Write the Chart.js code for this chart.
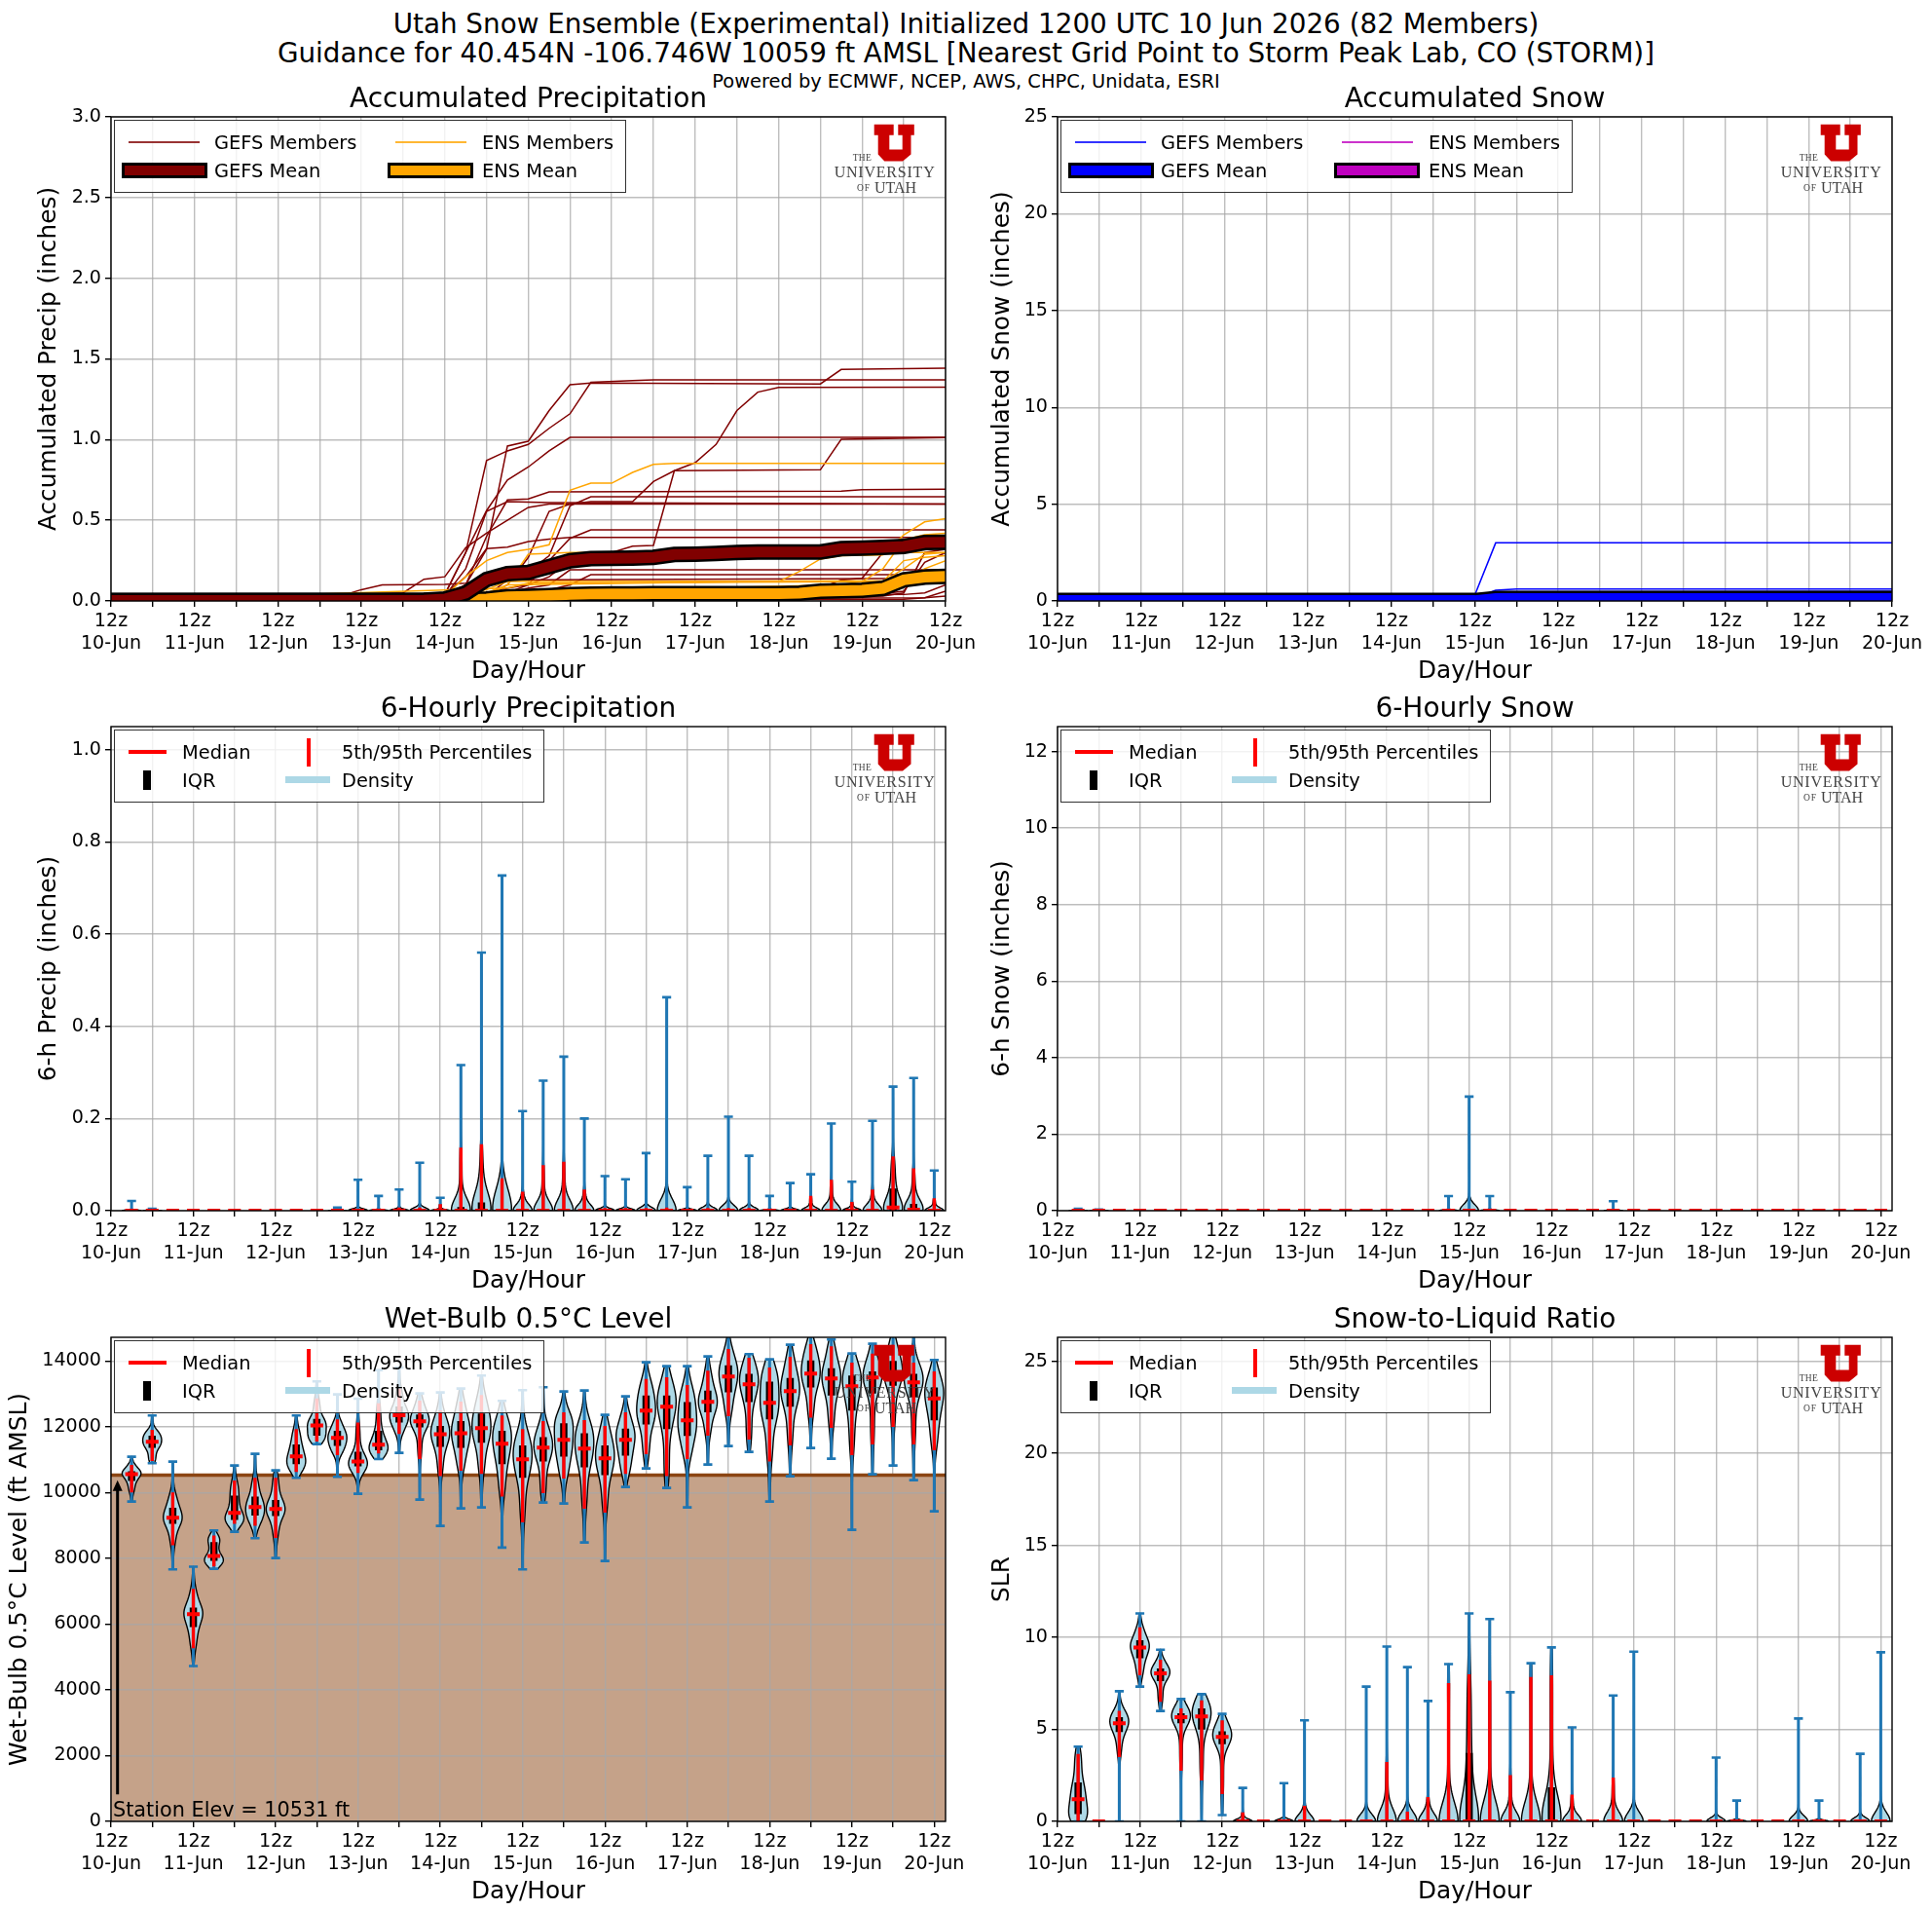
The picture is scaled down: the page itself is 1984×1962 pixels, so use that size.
<!DOCTYPE html>
<html>
<head>
<meta charset="utf-8">
<title>Utah Snow Ensemble</title>
<script src="https://cdn.jsdelivr.net/npm/chart.js@4"></script>
<style>
    html, body { margin: 0; padding: 0; background: #fff; }
    #page { position: relative; width: 1984px; height: 1962px; overflow: hidden; font-family: "DejaVu Sans", sans-serif; color: #000; }
    #page canvas, #page svg { position: absolute; }
    .headline { position: absolute; left: 0; width: 1984px; text-align: center; white-space: nowrap; transform: translateY(-50%); }
    .legend { position: absolute; box-sizing: border-box; background: rgba(255,255,255,0.8); border: 1.4px solid rgba(0,0,0,0.8); font-size: 19.4px; }
    .legend span { position: absolute; white-space: nowrap; transform: translateY(-50%); }
    .legend i { position: absolute; display: block; box-sizing: border-box; }
</style>
</head>
<body>
<div id="page">
    <div class="headline" style="top:24px;font-size:27.8px">Utah Snow Ensemble (Experimental) Initialized 1200 UTC 10 Jun 2026 (82 Members)</div>
    <div class="headline" style="top:54px;font-size:27.8px">Guidance for 40.454N -106.746W 10059 ft AMSL [Nearest Grid Point to Storm Peak Lab, CO (STORM)]</div>
    <div class="headline" style="top:83px;font-size:19.4px">Powered by ECMWF, NCEP, AWS, CHPC, Unidata, ESRI</div>
</div>
<script>
// Forecast day labels, one per 12z tick
const dayLabels = ['10-Jun', '11-Jun', '12-Jun', '13-Jun', '14-Jun', '15-Jun', '16-Jun', '17-Jun', '18-Jun', '19-Jun', '20-Jun'];

// Y tick values per panel
const accPrecipTicks = [0, 0.5, 1, 1.5, 2, 2.5, 3];
const accSnowTicks = [0, 5, 10, 15, 20, 25];
const precipTicks = [0, 0.2, 0.4, 0.6, 0.8, 1];
const snowTicks = [0, 2, 4, 6, 8, 10, 12];
const wbTicks = [0, 2000, 4000, 6000, 8000, 10000, 12000, 14000];
const slrTicks = [0, 5, 10, 15, 20, 25];

// Accumulated precip members, [forecast hour, inches] at each bend of the trace
const gefsPrecipMembers = [
    [[0,.003],[90,.01],[96,.04],[102,.1],[108,.32],[114,.96],[120,.99],[126,1.18],[132,1.34],[138,1.35],[204,1.345],[210,1.435],[240,1.443]],
    [[0,.003],[90,.01],[96,.04],[102,.3],[108,.87],[114,.93],[120,.97],[126,1.07],[132,1.16],[138,1.355],[150,1.365],[156,1.37],[240,1.37]],
    [[0,.003],[108,.03],[114,.1],[120,.27],[126,.555],[132,.6],[138,.615],[150,.615],[156,.74],[162,.807],[168,.857],[174,.97],[180,1.18],[186,1.294],[192,1.324],[240,1.325]],
    [[0,.003],[90,.01],[96,.04],[102,.3],[108,.56],[114,.75],[120,.83],[126,.93],[132,1.014],[240,1.014]],
    [[0,.003],[108,.05],[114,.08],[120,.1],[126,.15],[132,.25],[138,.29],[144,.3],[150,.34],[156,.344],[162,.807],[204,.813],[210,1.002],[240,1.012]],
    [[0,.003],[96,.03],[102,.1],[108,.4],[114,.626],[120,.632],[126,.676],[210,.68],[216,.69],[240,.692]],
    [[0,.003],[108,.03],[114,.13],[120,.18],[126,.28],[132,.59],[138,.646],[240,.646]],
    [[0,.003],[96,.03],[102,.2],[108,.555],[114,.615],[126,.61],[240,.6]],
    [[0,.003],[114,.05],[120,.1],[126,.25],[132,.388],[138,.44],[240,.44]],
    [[0,.003],[96,.04],[102,.15],[108,.324],[114,.334],[120,.368],[126,.384],[132,.394],[240,.394]],
    [[0,.003],[114,.05],[120,.08],[126,.1],[132,.193],[240,.193]],
    [[0,.003],[120,.05],[126,.07],[132,.1],[138,.163],[240,.163]],
    [[0,.003],[66,.03],[72,.07],[78,.1],[96,.103],[102,.11],[108,.13],[240,.14]],
    [[0,.003],[84,.05],[90,.135],[96,.15],[102,.33],[108,.42],[114,.5],[120,.58],[126,.6],[240,.6]],
    [[0,.003],[204,.08],[210,.13],[216,.14],[222,.3],[228,.3],[234,.33],[240,.34]],
    [[0,.003],[222,.03],[228,.05],[234,.3],[240,.32]],
    [[0,.003],[216,.03],[228,.06],[234,.24],[240,.3]],
    [[0,.003],[228,.01],[234,.02],[240,.06]],
    [[0,.003],[234,.02],[240,.03]],
    [[0,.003],[228,.04],[234,.05],[240,.1]]
];
const ensPrecipMembers = [
    [[0,.003],[96,.03],[102,.15],[108,.25],[114,.3],[120,.32],[126,.348],[132,.686],[138,.73],[144,.73],[150,.797],[156,.847],[162,.853],[240,.853]],
    [[0,.003],[108,.05],[114,.1],[186,.12],[192,.12],[198,.183],[204,.26],[210,.28],[222,.285],[228,.41],[234,.49],[240,.51]],
    [[0,.003],[210,.1],[216,.12],[222,.2],[228,.38],[234,.41],[240,.42]],
    [[0,.003],[216,.08],[222,.12],[228,.2],[234,.29],[240,.3]],
    [[0,.003],[102,.04],[108,.07],[114,.12],[240,.125]],
    [[0,.003],[108,.03],[114,.1],[120,.29],[132,.3],[240,.3]],
    [[0,.003],[210,.07],[222,.12],[228,.25],[234,.27],[240,.28]],
    [[0,.003],[114,.08],[120,.11],[228,.12],[234,.2],[240,.25]]
];
const meanHours = [0, 90, 96, 102, 108, 114, 120, 126, 132, 138, 144, 150, 156, 162, 168, 174, 180, 186, 192, 198, 204, 210, 216, 222, 228, 234, 240];
const gefsPrecipMean = [.003, .004, .012, .048, .133, .169, .177, .213, .249, .262, .264, .266, .27, .288, .29, .294, .3, .304, .304, .304, .304, .324, .328, .332, .338, .362, .364];
const ensPrecipMean = [.002, .003, .005, .006, .012, .025, .028, .033, .04, .043, .044, .044, .045, .045, .046, .046, .046, .046, .046, .048, .06, .063, .066, .078, .131, .148, .153];

// Accumulated snow members and means, inches
const gefsSnowMembers = [
    [[0,.02],[120,.3],[126,3.0],[240,3.0]],
    [[0,.02],[120,.15],[126,.55],[132,.62],[240,.62]],
    [[0,.02],[120,.1],[126,.48],[240,.5]]
];
const ensSnowMembers = [
    [[0,.01],[120,.02],[126,.06],[240,.08]]
];
const snowMeanHours = [0, 120, 126, 240];
const gefsSnowMean = [.02, .02, .12, .12];
const ensSnowMean = [.005, .005, .02, .02];

// 6-hourly precip spread for forecast hours 6..240, inches (lower quantiles sit at zero)
const precipMax = [.021, .004, 0, 0, 0, 0, 0, 0, 0, 0, .007, .067, .032, .046, .104, .028, .316, .56, .727, .216, .282, .334, .2, .075, .068, .125, .463, .051, .119, .204, .119, .032, .06, .079, .189, .063, .195, .269, .288, .087];
const precipP95 = [.003, 0, 0, 0, 0, 0, 0, 0, 0, 0, 0, .004, .002, .007, .007, .014, .137, .144, .07, .041, .099, .106, .046, .006, .006, .006, .007, .002, .006, .006, .006, .002, .004, .032, .067, .019, .046, .118, .092, .027];
const precipQ3 = [0, 0, 0, 0, 0, 0, 0, 0, 0, 0, 0, 0, 0, 0, 0, 0, .008, .018, .002, 0, 0, 0, 0, 0, 0, 0, 0, 0, 0, 0, 0, 0, 0, 0, 0, 0, 0, .048, .015, 0];
const precipMedian = [0, 0, 0, 0, 0, 0, 0, 0, 0, 0, 0, 0, 0, 0, 0, 0, 0, 0, 0, 0, 0, 0, 0, 0, 0, 0, 0, 0, 0, 0, 0, 0, 0, 0, 0, 0, 0, .007, .002, 0];

// 6-hourly snow spread, inches
const snowMax = [.05, .03, 0, 0, 0, 0, 0, 0, 0, 0, 0, 0, 0, 0, 0, 0, 0, 0, .38, 2.98, .38, 0, 0, 0, 0, 0, .25, 0, 0, 0, 0, 0, 0, 0, 0, 0, 0, 0, 0, 0];
const snowP95 = [0, 0, 0, 0, 0, 0, 0, 0, 0, 0, 0, 0, 0, 0, 0, 0, 0, 0, .01, .03, .01, 0, 0, 0, 0, 0, .01, 0, 0, 0, 0, 0, 0, 0, 0, 0, 0, 0, 0, 0];

// Wet-bulb 0.5C level spread, ft AMSL
const wbMax = [11089, 12342, 10941, 7743, 8848, 10822, 11178, 10674, 12342, 13379, 12984, 12855, 13724, 13803, 13013, 13043, 13161, 13556, 12786, 13112, 13201, 13073, 13102, 12362, 12924, 13961, 13842, 13842, 14139, 14839, 14208, 14050, 14494, 14790, 14652, 14227, 14523, 14889, 14810, 14030];
const wbP95 = [10842, 11908, 10003, 7072, 8690, 10368, 10447, 10447, 11928, 12865, 12224, 12125, 12717, 13161, 12796, 12500, 12767, 12964, 12342, 11928, 12174, 12441, 12204, 12026, 12441, 13457, 13507, 13270, 13704, 14365, 14099, 13803, 14129, 14514, 14444, 13951, 14227, 14494, 13951, 13684];
const wbQ3 = [10644, 11730, 9539, 6499, 8493, 9904, 9875, 9776, 11464, 12243, 11878, 11237, 11878, 12619, 12372, 12026, 12174, 12401, 11878, 11434, 11681, 12105, 11799, 11434, 11947, 12954, 12954, 12747, 13102, 13872, 13606, 13369, 13487, 14020, 13783, 13556, 13684, 14000, 13606, 13191];
const wbMedian = [10556, 11543, 9233, 6302, 8068, 9381, 9559, 9500, 11099, 12036, 11661, 10941, 11454, 12352, 12165, 11770, 11799, 11957, 11483, 11010, 11365, 11602, 11335, 11039, 11602, 12490, 12609, 12194, 12757, 13527, 13290, 12727, 13082, 13615, 13467, 13230, 13497, 13606, 13349, 12865];
const wbQ1 = [10348, 11355, 9046, 5907, 7921, 9164, 9302, 9283, 10862, 11730, 11414, 10793, 11286, 12125, 11977, 11385, 11355, 11513, 10862, 10447, 10941, 11089, 10763, 10526, 11118, 12066, 11928, 11720, 12441, 13043, 12747, 12224, 12609, 13191, 12954, 12490, 13013, 13250, 12895, 12194];
const wbP05 = [10003, 10960, 8394, 5265, 7753, 9046, 8986, 8621, 10625, 11553, 11138, 10595, 11187, 11780, 11020, 10496, 10664, 10566, 9875, 9095, 9983, 10427, 9510, 9391, 10566, 11168, 10496, 11020, 11730, 12322, 11612, 10941, 11434, 12273, 11967, 11138, 11464, 11997, 11464, 11286];
const wbMin = [9727, 10891, 7664, 4722, 7683, 8809, 8611, 8009, 10447, 11474, 10477, 9963, 11020, 11207, 9786, 8986, 9519, 9549, 8325, 7664, 9697, 9667, 8483, 7920, 10171, 10733, 10141, 9549, 10852, 11414, 11237, 9727, 10496, 11355, 11029, 8868, 10556, 10822, 10378, 9431];
const stationElev = 10531;

// Snow-to-liquid ratio spread
const slrMax = [4.06, 0, 7.07, 11.3, 9.33, 6.65, 6.91, 5.84, 1.82, 0, 2.08, 5.49, 0, 0, 7.32, 9.5, 8.38, 6.54, 8.55, 11.3, 10.99, 7.02, 8.59, 9.45, 5.11, 0, 6.84, 9.22, 0, 0, 0, 3.47, 1.13, 0, 0, 5.59, 1.13, 0, 3.67, 9.19];
const slrP95 = [3.67, 0, 6.01, 10.55, 8.78, 6.14, 6.58, 5.49, .49, 0, .05, .85, 0, 0, .05, 3.23, .53, 1.32, 7.51, 7.99, 7.64, 2.52, 7.85, 7.94, 1.46, 0, 2.38, .05, 0, 0, 0, .05, .05, 0, 0, .05, .05, 0, .05, .05];
const slrQ3 = [2.12, 0, 5.66, 9.84, 8.31, 5.87, 6.14, 4.9, 0, 0, 0, 0, 0, 0, 0, 0, 0, 0, 0, 3.72, 0, 0, 0, 1.85, 0, 0, 0, 0, 0, 0, 0, 0, 0, 0, 0, 0, 0, 0, 0, 0];
const slrMedian = [1.2, 0, 5.33, 9.45, 8.04, 5.66, 5.7, 4.59, 0, 0, 0, 0, 0, 0, 0, 0, 0, 0, 0, 0, 0, 0, 0, 0, 0, 0, 0, 0, 0, 0, 0, 0, 0, 0, 0, 0, 0, 0, 0, 0];
const slrQ1 = [.4, 0, 4.85, 8.87, 7.62, 5.33, 4.99, 4.2, 0, 0, 0, 0, 0, 0, 0, 0, 0, 0, 0, 0, 0, 0, 0, 0, 0, 0, 0, 0, 0, 0, 0, 0, 0, 0, 0, 0, 0, 0, 0, 0];
const slrP05 = [0, 0, 3.49, 7.94, 6.49, 2.75, 2.22, 1.48, 0, 0, 0, 0, 0, 0, 0, 0, 0, 0, 0, 0, 0, 0, 0, 0, 0, 0, 0, 0, 0, 0, 0, 0, 0, 0, 0, 0, 0, 0, 0, 0];
const slrMin = [0, 0, 0, 7.32, 6.0, 0, 0, .34, 0, 0, 0, 0, 0, 0, 0, 0, 0, 0, 0, 0, 0, 0, 0, 0, 0, 0, 0, 0, 0, 0, 0, 0, 0, 0, 0, 0, 0, 0, 0, 0];

// Panel geometry
const colLeft = [114, 1086];
const rowTop = [120, 746, 1373];
const axesWidth = 857;
const axesHeight = 497;
const titleHeight = 35;
const xAxisHeight = 87;
const rightPad = 40;

const page = document.getElementById('page');

Chart.defaults.font.family = '"DejaVu Sans", sans-serif';
Chart.defaults.color = '#000';
Chart.defaults.animation = false;

// Black frame round the plot area, above the data
const framePlugin = {
    id: 'frame',
    afterDatasetsDraw(chart) {
        const { ctx, chartArea: a } = chart;
        ctx.save();
        ctx.strokeStyle = '#000';
        ctx.lineWidth = 1.4;
        ctx.strokeRect(a.left, a.top, a.right - a.left, a.bottom - a.top);
        ctx.restore();
    }
};

// Terrain below the station level, painted before the grid so the grid stays on top of it
const terrainPlugin = {
    id: 'terrain',
    beforeDraw(chart) {
        const { ctx, scales: { y }, chartArea: a } = chart;
        const top = y.getPixelForValue(stationElev);
        ctx.save();
        ctx.fillStyle = 'rgba(139,69,19,0.5)';
        ctx.fillRect(a.left, top, a.right - a.left, a.bottom - top);
        ctx.restore();
    }
};

// Arrow up to the station level and its caption on the wet-bulb panel
const stationPlugin = {
    id: 'stationMark',
    afterDatasetsDraw(chart) {
        const { ctx, scales: { x, y }, chartArea: a } = chart;
        const ax = x.getPixelForValue(1.9);
        const tip = y.getPixelForValue(10376);
        const tail = y.getPixelForValue(823);
        ctx.save();
        ctx.strokeStyle = '#000';
        ctx.fillStyle = '#000';
        ctx.lineWidth = 3;
        ctx.beginPath();
        ctx.moveTo(ax, tail);
        ctx.lineTo(ax, tip + 8);
        ctx.stroke();
        ctx.beginPath();
        ctx.moveTo(ax, tip);
        ctx.lineTo(ax - 5, tip + 11);
        ctx.lineTo(ax + 5, tip + 11);
        ctx.closePath();
        ctx.fill();
        ctx.font = '20.8px "DejaVu Sans"';
        ctx.textBaseline = 'alphabetic';
        ctx.fillText('Station Elev = ' + stationElev + ' ft', a.left + 2, a.bottom - 5);
        ctx.restore();
    }
};

function toPoints(pairs) {
    return pairs.map(p => ({ x: p[0], y: p[1] }));
}

function zipPoints(hours, values) {
    return hours.map((h, i) => ({ x: h, y: values[i] }));
}

// Thin member traces plus a mean drawn as a colored stroke on a wider black one
function memberDatasets(gefs, ens, hours, gefsMean, ensMean, gefsColor, ensColor) {
    const sets = [];
    gefs.forEach(m => sets.push({ data: toPoints(m), borderColor: gefsColor, borderWidth: 1.5, order: 50 }));
    ens.forEach(m => sets.push({ data: toPoints(m), borderColor: ensColor, borderWidth: 1.5, order: 40 }));
    sets.push({ data: zipPoints(hours, ensMean), borderColor: '#000', borderWidth: 16, order: 30 });
    sets.push({ data: zipPoints(hours, ensMean), borderColor: ensColor, borderWidth: 11, order: 29 });
    sets.push({ data: zipPoints(hours, gefsMean), borderColor: '#000', borderWidth: 16, order: 20 });
    sets.push({ data: zipPoints(hours, gefsMean), borderColor: gefsColor, borderWidth: 11, order: 19 });
    return sets;
}

// Quantile lookup through the summary values of one forecast step
function quantile(s, p) {
    const ps = [0, .05, .25, .5, .75, .95, 1];
    const vs = [s.min, s.p05, s.q1, s.median, s.q3, s.p95, s.max];
    for (let i = 1; i < ps.length; i++) {
        if (p <= ps[i]) {
            return vs[i - 1] + (vs[i] - vs[i - 1]) * (p - ps[i - 1]) / (ps[i] - ps[i - 1]);
        }
    }
    return s.max;
}

// Violin body outline: Gaussian KDE over the 82 members' quantiles, cut at the extremes
function violinOutline(hour, s) {
    const halfWidth = 2.75;
    const members = [];
    for (let i = 0; i < 82; i++) {
        members.push(quantile(s, (i + 0.5) / 82));
    }
    const mean = members.reduce((a, b) => a + b, 0) / members.length;
    const variance = members.reduce((sum, v) => sum + Math.pow(v - mean, 2), 0) / members.length;
    const bandwidth = Math.max(Math.sqrt(variance) * 0.414, (s.max - s.min) * 0.004);

    const steps = 60;
    const levels = [];
    for (let i = 0; i <= steps; i++) {
        const y = s.min + (s.max - s.min) * i / steps;
        let density = 0;
        members.forEach(v => { density += Math.exp(-0.5 * Math.pow((y - v) / bandwidth, 2)); });
        levels.push({ y, density });
    }
    const peak = Math.max(...levels.map(l => l.density));
    const left = levels.map(l => ({ x: hour - halfWidth * l.density / peak, y: l.y }));
    const right = levels.map(l => ({ x: hour + halfWidth * l.density / peak, y: l.y })).reverse();
    return left.concat(right, [left[0]]);
}

// Builds bodies, whiskers, caps, IQR bars, 5-95 lines and median ticks for one panel
function violinDatasets(arrays) {
    const zeros = arrays.max.map(() => 0);
    const get = name => arrays[name] || zeros;
    const sets = [];
    const whiskers = [], caps = [], iqr = [], range = [], medians = [];

    arrays.max.forEach((max, i) => {
        const hour = (i + 1) * 6;
        const s = {
            max, p95: get('p95')[i], q3: get('q3')[i], median: get('median')[i],
            q1: get('q1')[i], p05: get('p05')[i], min: get('min')[i]
        };
        if (s.max > s.min) {
            sets.push({
                data: violinOutline(hour, s), backgroundColor: '#add8e6', fill: 'shape',
                borderColor: '#000', borderWidth: 1.4, tension: 0.01, borderJoinStyle: 'round', order: 60
            });
            whiskers.push({ x: hour, y: s.min }, { x: hour, y: s.max }, { x: hour, y: NaN });
        }
        caps.push({ x: hour - 1.3, y: s.max }, { x: hour + 1.3, y: s.max }, { x: hour, y: NaN });
        caps.push({ x: hour - 1.3, y: s.min }, { x: hour + 1.3, y: s.min }, { x: hour, y: NaN });
        if (s.q3 > s.q1) {
            iqr.push({ x: hour, y: s.q1 }, { x: hour, y: s.q3 }, { x: hour, y: NaN });
        }
        if (s.p95 > s.p05) {
            range.push({ x: hour, y: s.p05 }, { x: hour, y: s.p95 }, { x: hour, y: NaN });
        }
        medians.push({ x: hour - 1.85, y: s.median }, { x: hour + 1.85, y: s.median }, { x: hour, y: NaN });
    });

    sets.push({ data: whiskers, borderColor: '#1f77b4', borderWidth: 3, order: 50 });
    sets.push({ data: caps, borderColor: '#1f77b4', borderWidth: 2.6, order: 49 });
    sets.push({ data: iqr, borderColor: '#000', borderWidth: 7.5, order: 40 });
    sets.push({ data: range, borderColor: '#ff0000', borderWidth: 3.4, order: 30 });
    sets.push({ data: medians, borderColor: '#ff0000', borderWidth: 4, order: 20 });
    return sets;
}

// One panel: its own canvas, sized so the plot area lands on the figure grid
function createPanel(cfg) {
    const axLeft = colLeft[cfg.col];
    const axTop = rowTop[cfg.row];
    const canvas = document.createElement('canvas');
    canvas.width = cfg.yWidth + axesWidth + rightPad;
    canvas.height = titleHeight + axesHeight + xAxisHeight;
    canvas.style.left = (axLeft - cfg.yWidth) + 'px';
    canvas.style.top = (axTop - titleHeight) + 'px';
    page.appendChild(canvas);

    cfg.datasets.forEach(d => {
        d.showLine = true;
        d.clip = 0;
        if (d.fill === undefined) d.fill = false;
    });

    const grid = { color: 'rgba(168,168,168,0.75)', lineWidth: 1.4, tickColor: '#000', tickWidth: 1.4, tickLength: 6 };

    new Chart(canvas, {
        type: 'scatter',
        data: { datasets: cfg.datasets },
        options: {
            responsive: false,
            events: [],
            layout: { padding: { right: rightPad } },
            elements: { point: { radius: 0 } },
            plugins: {
                legend: { display: false },
                tooltip: { enabled: false },
                title: {
                    display: true,
                    text: cfg.title,
                    fullSize: false,
                    color: '#000',
                    padding: 0,
                    font: { size: 28, weight: 'normal', lineHeight: titleHeight / 28 }
                }
            },
            scales: {
                x: {
                    type: 'linear',
                    min: 0,
                    max: cfg.xMax,
                    grid: grid,
                    border: { display: false },
                    afterFit(scale) { scale.height = xAxisHeight; },
                    title: { display: true, text: 'Day/Hour', color: '#000', padding: 0, font: { size: 24.8, lineHeight: 1.2 } },
                    ticks: {
                        stepSize: 12,
                        includeBounds: false,
                        autoSkip: false,
                        maxRotation: 0,
                        minRotation: 0,
                        padding: 4,
                        color: '#000',
                        font: { size: 19.1, lineHeight: 1.18 },
                        callback: value => (value % 24 === 0 ? ['12z', dayLabels[value / 24]] : '')
                    }
                },
                y: {
                    type: 'linear',
                    min: 0,
                    max: cfg.yMax,
                    grid: grid,
                    border: { display: false },
                    afterFit(scale) { scale.width = cfg.yWidth; },
                    afterBuildTicks(scale) { scale.ticks = cfg.yTicks.map(value => ({ value })); },
                    title: { display: true, text: cfg.yTitle, color: '#000', padding: 0, font: { size: 24.8, lineHeight: 1.2 } },
                    ticks: {
                        padding: 4,
                        color: '#000',
                        font: { size: 19.1 },
                        callback: value => (cfg.yDecimals ? value.toFixed(cfg.yDecimals) : String(value))
                    }
                }
            }
        },
        plugins: cfg.extraPlugins ? [framePlugin].concat(cfg.extraPlugins) : [framePlugin]
    });

    addLegend(axLeft, axTop, cfg.legend);
    addLogo(axLeft, axTop);
}

// HTML legend placed inside the plot area
function addLegend(axLeft, axTop, legend) {
    const box = document.createElement('div');
    box.className = 'legend';
    box.style.cssText = `left:${axLeft + 3}px;top:${axTop + 3}px;width:${legend.width}px;height:75px`;

    const mark = css => {
        const el = document.createElement('i');
        el.style.cssText = css;
        box.appendChild(el);
    };
    const label = (x, y, text) => {
        const el = document.createElement('span');
        el.style.left = x + 'px';
        el.style.top = y + 'px';
        el.textContent = text;
        box.appendChild(el);
    };

    if (legend.gefsColor) {
        mark(`left:14px;top:21px;width:73px;height:2px;background:${legend.gefsColor};opacity:.8`);
        mark(`left:288px;top:21px;width:73px;height:2px;background:${legend.ensColor};opacity:.8`);
        mark(`left:7px;top:43px;width:88px;height:16px;background:${legend.gefsColor};border:3px solid #000`);
        mark(`left:280px;top:43px;width:88px;height:16px;background:${legend.ensColor};border:3px solid #000`);
        label(102, 22, 'GEFS Members');
        label(377, 22, 'ENS Members');
        label(102, 51, 'GEFS Mean');
        label(377, 51, 'ENS Mean');
    } else {
        mark('left:14px;top:20px;width:39px;height:4px;background:#f00');
        mark('left:29px;top:41px;width:8px;height:20px;background:#000');
        mark('left:197px;top:8px;width:3.5px;height:29px;background:#f00');
        mark('left:175px;top:47px;width:46px;height:7px;background:#add8e6');
        label(69, 22, 'Median');
        label(69, 51, 'IQR');
        label(233, 22, '5th/95th Percentiles');
        label(233, 51, 'Density');
    }
    page.appendChild(box);
}

// University wordmark in the top right of each panel
function addLogo(axLeft, axTop) {
    const svg = `<svg xmlns="http://www.w3.org/2000/svg" width="130" height="90" style="left:${axLeft + axesWidth - 126}px;top:${axTop}px">
        <polygon fill="#cc0000" points="52.7,7.8 72.7,7.8 72.7,18.8 68.3,18.8 68.3,33.5 81.7,33.5 81.7,18.8 77.3,18.8 77.3,7.8 93.8,7.8 93.8,18.8 90.5,18.8 90.5,38.5 82,45.5 63.3,45.5 56.7,38.5 56.7,18.8 52.7,18.8"/>
        <g fill="#444" font-family="Liberation Serif">
            <text x="30.7" y="45" font-size="9.5" textLength="19">THE</text>
            <text x="11.7" y="62" font-size="16" textLength="103">UNIVERSITY</text>
            <text x="35" y="76" font-size="9.5" textLength="13">OF</text>
            <text x="53" y="78" font-size="16" textLength="43">UTAH</text>
        </g>
    </svg>`;
    page.insertAdjacentHTML('beforeend', svg);
}

// Six-panel layout
function buildFigure() {
    const memberLegend = (gefsColor, ensColor) => ({ width: 526, gefsColor, ensColor });
    const violinLegend = { width: 442 };
    const violinXMax = 243.3;

    createPanel({
        col: 0, row: 0, title: 'Accumulated Precipitation', yTitle: 'Accumulated Precip (inches)',
        yWidth: 78, xMax: 240, yMax: 3, yTicks: accPrecipTicks, yDecimals: 1,
        legend: memberLegend('#800000', '#ffa500'),
        datasets: memberDatasets(gefsPrecipMembers, ensPrecipMembers, meanHours, gefsPrecipMean, ensPrecipMean, '#800000', '#ffa500')
    });

    createPanel({
        col: 1, row: 0, title: 'Accumulated Snow', yTitle: 'Accumulated Snow (inches)',
        yWidth: 71, xMax: 240, yMax: 25, yTicks: accSnowTicks,
        legend: memberLegend('#0000ff', '#bf00bf'),
        datasets: memberDatasets(gefsSnowMembers, ensSnowMembers, snowMeanHours, gefsSnowMean, ensSnowMean, '#0000ff', '#bf00bf')
    });

    createPanel({
        col: 0, row: 1, title: '6-Hourly Precipitation', yTitle: '6-h Precip (inches)',
        yWidth: 78, xMax: violinXMax, yMax: 1.05, yTicks: precipTicks, yDecimals: 1,
        legend: violinLegend,
        datasets: violinDatasets({ max: precipMax, p95: precipP95, q3: precipQ3, median: precipMedian })
    });

    createPanel({
        col: 1, row: 1, title: '6-Hourly Snow', yTitle: '6-h Snow (inches)',
        yWidth: 71, xMax: violinXMax, yMax: 12.65, yTicks: snowTicks,
        legend: violinLegend,
        datasets: violinDatasets({ max: snowMax, p95: snowP95 })
    });

    const groundLevel = {
        data: [{ x: 0, y: stationElev }, { x: violinXMax, y: stationElev }],
        borderColor: '#8b4513', borderWidth: 3.5, order: 100
    };
    createPanel({
        col: 0, row: 2, title: 'Wet-Bulb 0.5°C Level', yTitle: 'Wet-Bulb 0.5°C Level (ft AMSL)',
        yWidth: 108, xMax: violinXMax, yMax: 14720, yTicks: wbTicks,
        legend: violinLegend,
        extraPlugins: [terrainPlugin, stationPlugin],
        datasets: [groundLevel].concat(violinDatasets({
            max: wbMax, p95: wbP95, q3: wbQ3, median: wbMedian, q1: wbQ1, p05: wbP05, min: wbMin
        }))
    });

    createPanel({
        col: 1, row: 2, title: 'Snow-to-Liquid Ratio', yTitle: 'SLR',
        yWidth: 71, xMax: violinXMax, yMax: 26.3, yTicks: slrTicks,
        legend: violinLegend,
        datasets: violinDatasets({
            max: slrMax, p95: slrP95, q3: slrQ3, median: slrMedian, q1: slrQ1, p05: slrP05, min: slrMin
        })
    });
}

buildFigure();
</script>
</body>
</html>
